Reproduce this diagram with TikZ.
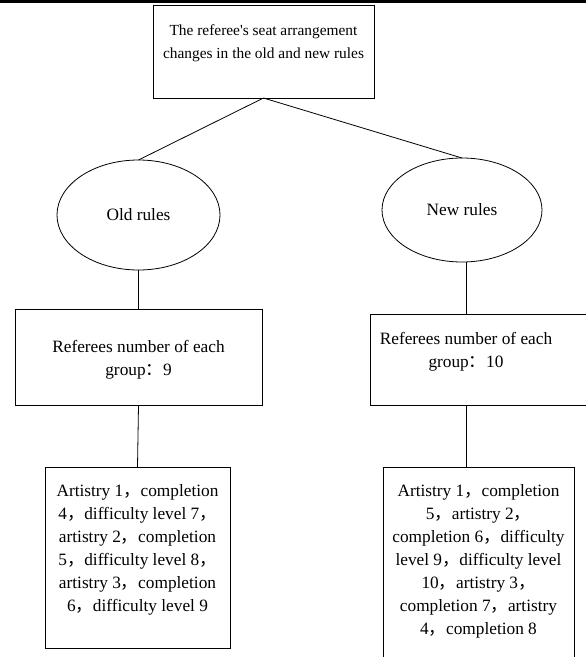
\documentclass[tikz,border=0pt]{standalone}
\usepackage{fontspec}
\setmainfont{Liberation Serif}
\newfontfamily\cjk{Noto Sans CJK SC}
\usetikzlibrary{shapes.geometric}
\newcommand{\fc}{{\cjk ，}}
\newcommand{\fcol}{{\cjk ：}}
\newcommand{\tb}[6]{\parbox[c][#2][t]{#1}{\fontsize{#6}{23pt}\selectfont\centering\rightskip=#4 plus 1fil\relax\vspace*{#3}#5\par}}
\begin{document}
\begin{tikzpicture}[x=1pt,y=-1pt, line width=0.8pt,
  rbox/.style={draw, rectangle, inner sep=0pt, outer sep=0pt},
  oval/.style={draw, ellipse, inner sep=0pt, outer sep=0pt, font=\fontsize{17.3pt}{23pt}\selectfont}]
\useasboundingbox (0,0) rectangle (586,657);
\fill (0,0) rectangle (586,2.5);
\node[rbox] (top) at (263.5,51.5) {\tb{221pt}{93pt}{20pt}{0pt}{The referee\textquotesingle s seat arrangement\\changes in the old and new rules}{15.4pt}};
\node[oval, minimum width=163pt, minimum height=110pt] (oldr) at (138.5,215) {Old rules};
\node[oval, minimum width=160pt, minimum height=104pt] (newr) at (462,210) {New rules};
\node[rbox] (midl) at (138.5,357) {\tb{247pt}{96pt}{31.8pt}{0pt}{Referees number of each\\group\fcol 9}{17.3pt}};
\node[rbox] (midr) at (495,359.5) {\tb{250pt}{91pt}{18.3pt}{58pt}{Referees number of each\\group\fcol 10}{17.3pt}};
\node[rbox] (botl) at (137.5,557.5) {\tb{185pt}{181pt}{17.8pt}{0pt}{Artistry 1\fc completion\\4\fc difficulty level 7\fc\\artistry 2\fc completion\\5\fc difficulty level 8\fc\\artistry 3\fc completion\\6\fc difficulty level 9}{17.3pt}};
\node[rbox] (botr) at (478.5,578.5) {\tb{191pt}{223pt}{17.8pt}{0pt}{Artistry 1\fc completion\\5\fc artistry 2\fc\\completion 6\fc difficulty\\level 9\fc difficulty level\\10\fc artistry 3\fc\\completion 7\fc artistry\\4\fc completion 8}{17.3pt}};
\coordinate (rl) at (466,0);
\draw (top.south) -- (oldr.north);
\draw (top.south) -- (newr.north);
\draw (oldr.south) -- (midl.north);
\draw (newr.south -| rl) -- (midr.north -| rl);
\draw (midl.south) -- (botl.north);
\draw (midr.south -| rl) -- (botr.north -| rl);
\end{tikzpicture}
\end{document}
